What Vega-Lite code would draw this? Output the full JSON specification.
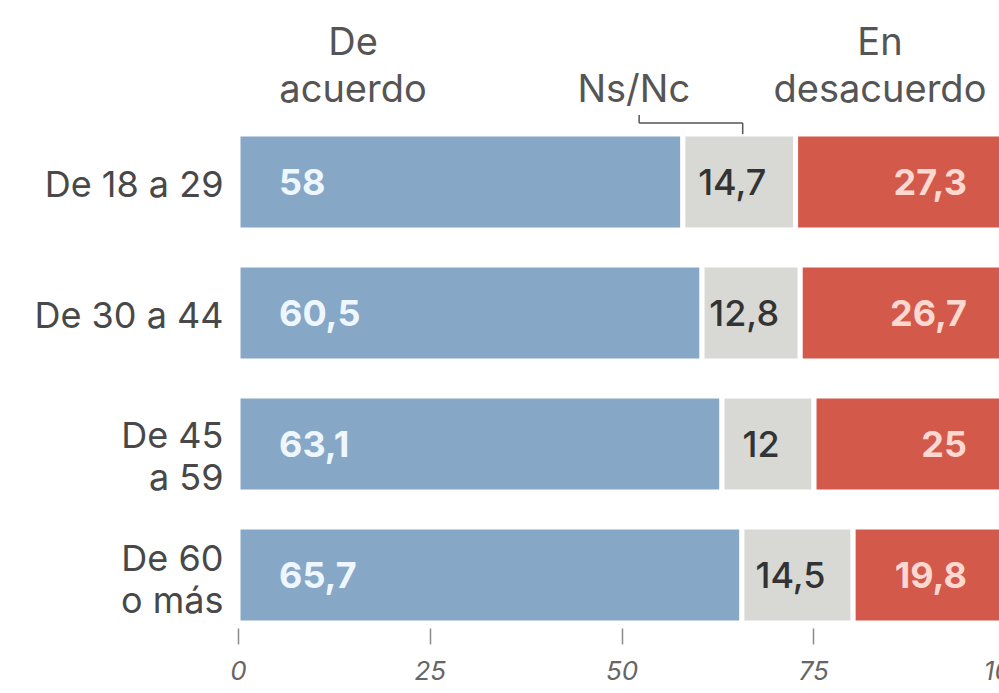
{
  "$schema": "https://vega.github.io/schema/vega-lite/v6.json",
  "autosize": "none",
  "padding": {"left": 238, "top": 117, "right": 0, "bottom": 70},
  "width": 767,
  "height": 506,
  "background": "white",
  "config": {
    "view": {"stroke": null},
    "font": "Inter",
    "locale": {"number": {"decimal": ",", "thousands": ".", "grouping": [3], "currency": ["", " €"]}}
  },
  "datasets": {
    "survey": [
      {"age": "De 18 a 29", "resp": "De acuerdo", "k": 1, "value": 58},
      {"age": "De 18 a 29", "resp": "Ns/Nc", "k": 2, "value": 14.7},
      {"age": "De 18 a 29", "resp": "En desacuerdo", "k": 3, "value": 27.3},
      {"age": "De 30 a 44", "resp": "De acuerdo", "k": 1, "value": 60.5},
      {"age": "De 30 a 44", "resp": "Ns/Nc", "k": 2, "value": 12.8},
      {"age": "De 30 a 44", "resp": "En desacuerdo", "k": 3, "value": 26.7},
      {"age": "De 45 a 59", "resp": "De acuerdo", "k": 1, "value": 63.1},
      {"age": "De 45 a 59", "resp": "Ns/Nc", "k": 2, "value": 12},
      {"age": "De 45 a 59", "resp": "En desacuerdo", "k": 3, "value": 25},
      {"age": "De 60 o más", "resp": "De acuerdo", "k": 1, "value": 65.7},
      {"age": "De 60 o más", "resp": "Ns/Nc", "k": 2, "value": 14.5},
      {"age": "De 60 o más", "resp": "En desacuerdo", "k": 3, "value": 19.8}
    ],
    "headers": [
      {"age": "De 18 a 29", "pos": 15, "label": "De\nacuerdo", "lines": 2},
      {"age": "De 18 a 29", "pos": 51.6, "label": "Ns/Nc", "lines": 1},
      {"age": "De 18 a 29", "pos": 83.7, "label": "En\ndesacuerdo", "lines": 2}
    ],
    "bracket": [
      {"age": "De 18 a 29", "a": 52.3, "b": 65.8}
    ]
  },
  "layer": [
    {
      "data": {"name": "survey"},
      "mark": {"type": "bar", "stroke": "white", "strokeWidth": 5},
      "encoding": {
        "y": {
          "field": "age", "type": "nominal", "sort": null,
          "scale": {"domain": ["De 18 a 29", "De 30 a 44", "De 45 a 59", "De 60 o más"], "paddingInner": 0.267, "paddingOuter": 0.0648, "align": 1},
          "axis": {
            "title": null, "domain": false, "ticks": false,
            "labelFontSize": 36, "labelColor": "#484848", "labelPadding": 15, "labelLimit": 0,
            "labelLineHeight": 42,
            "labelOffset": {"condition": [
              {"test": "datum.value === 'De 45 a 59'", "value": -7},
              {"test": "datum.value === 'De 60 o más'", "value": -15}
            ], "value": 4},
            "labelExpr": "datum.label === 'De 45 a 59' ? ['De 45', 'a 59'] : datum.label === 'De 60 o más' ? ['De 60', 'o más'] : datum.label"
          }
        },
        "x": {
          "field": "value", "type": "quantitative", "stack": "zero",
          "scale": {"domain": [0, 100], "nice": false},
          "axis": {
            "values": [0, 25, 50, 75, 100], "title": null, "domain": false, "grid": false,
            "tickColor": "#8a8a8a", "tickWidth": 1.5, "tickSize": 16, "offset": 5,
            "labelFontStyle": "italic", "labelFontSize": 26, "labelColor": "#666",
            "labelPadding": 14, "labelFlush": false
          }
        },
        "color": {
          "field": "resp", "type": "nominal",
          "scale": {"domain": ["De acuerdo", "Ns/Nc", "En desacuerdo"], "range": ["#87a7c6", "#d8d8d5", "#d3594b"]},
          "legend": null
        },
        "order": {"field": "k", "type": "quantitative"}
      }
    },
    {
      "data": {"name": "survey"},
      "mark": {"type": "text", "align": "center", "baseline": "middle", "dx": -7, "dy": 2, "fontSize": 36, "fontWeight": 500, "color": "#333"},
      "encoding": {
        "y": {"field": "age", "type": "nominal"},
        "x": {"field": "value", "type": "quantitative", "stack": "zero", "bandPosition": 0.5},
        "detail": {"field": "resp"},
        "order": {"field": "k", "type": "quantitative"},
        "text": {"field": "value", "type": "quantitative", "format": ".1~f"},
        "opacity": {"condition": {"test": "datum.resp === 'Ns/Nc'", "value": 1}, "value": 0}
      }
    },
    {
      "data": {"name": "survey"},
      "transform": [{"filter": "datum.resp === 'De acuerdo'"}],
      "mark": {"type": "text", "align": "left", "baseline": "middle", "dx": 41, "dy": 2, "fontSize": 36, "fontWeight": "bold", "color": "#eef7ff"},
      "encoding": {
        "y": {"field": "age", "type": "nominal"},
        "x": {"datum": 0},
        "text": {"field": "value", "type": "quantitative", "format": ".1~f"}
      }
    },
    {
      "data": {"name": "survey"},
      "transform": [{"filter": "datum.resp === 'En desacuerdo'"}],
      "mark": {"type": "text", "align": "right", "baseline": "middle", "dx": -38, "dy": 2, "fontSize": 36, "fontWeight": "bold", "color": "#fcd8d0"},
      "encoding": {
        "y": {"field": "age", "type": "nominal"},
        "x": {"datum": 100},
        "text": {"field": "value", "type": "quantitative", "format": ".1~f"}
      }
    },
    {
      "data": {"name": "headers"},
      "transform": [{"filter": "datum.lines === 2"}],
      "mark": {"type": "text", "align": "center", "baseline": "alphabetic", "fontSize": 38, "lineHeight": 47, "lineBreak": "\n", "color": "#555"},
      "encoding": {
        "y": {"field": "age", "type": "nominal", "bandPosition": -0.823},
        "x": {"field": "pos", "type": "quantitative"},
        "text": {"field": "label"}
      }
    },
    {
      "data": {"name": "headers"},
      "transform": [{"filter": "datum.lines === 1"}],
      "mark": {"type": "text", "align": "center", "baseline": "alphabetic", "fontSize": 38, "color": "#555"},
      "encoding": {
        "y": {"field": "age", "type": "nominal", "bandPosition": -0.333},
        "x": {"field": "pos", "type": "quantitative"},
        "text": {"field": "label"}
      }
    },
    {
      "data": {"name": "bracket"},
      "mark": {"type": "rule", "color": "#555", "strokeWidth": 1.5},
      "encoding": {
        "y": {"field": "age", "type": "nominal", "bandPosition": -0.115},
        "x": {"field": "a", "type": "quantitative"},
        "x2": {"field": "b"}
      }
    },
    {
      "data": {"name": "bracket"},
      "mark": {"type": "rule", "color": "#555", "strokeWidth": 1.5},
      "encoding": {
        "y": {"field": "age", "type": "nominal", "bandPosition": -0.198},
        "y2": {"field": "age", "bandPosition": -0.115},
        "x": {"field": "a", "type": "quantitative"}
      }
    },
    {
      "data": {"name": "bracket"},
      "mark": {"type": "rule", "color": "#555", "strokeWidth": 1.5},
      "encoding": {
        "y": {"field": "age", "type": "nominal", "bandPosition": -0.115},
        "y2": {"field": "age", "bandPosition": 0},
        "x": {"field": "b", "type": "quantitative"}
      }
    }
  ]
}
